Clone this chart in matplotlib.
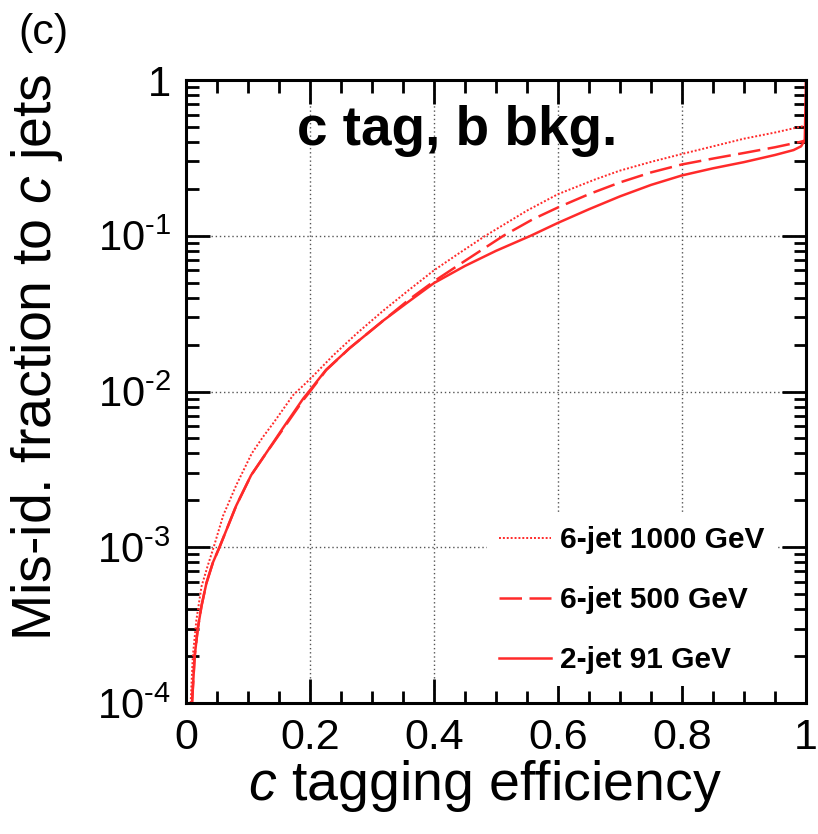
import matplotlib
matplotlib.use("Agg")
import matplotlib.pyplot as plt
from matplotlib.ticker import MultipleLocator, LogLocator, NullFormatter

plt.rcParams['font.family'] = ['Liberation Sans', 'DejaVu Sans']
plt.rcParams['mathtext.fontset'] = 'custom'
plt.rcParams['mathtext.rm'] = 'Liberation Sans'
plt.rcParams['mathtext.it'] = 'Liberation Sans:italic'
plt.rcParams['mathtext.bf'] = 'Liberation Sans:bold'

# ---- data ----
eff_91 = [0.0097, 0.014, 0.019, 0.025, 0.033, 0.0435, 0.054, 0.062, 0.081, 0.105,
          0.127, 0.156, 0.189, 0.200, 0.226, 0.264, 0.318, 0.360, 0.400, 0.450,
          0.500, 0.556, 0.600, 0.650, 0.700, 0.750, 0.800, 0.850, 0.900, 0.950,
          0.980, 0.992, 0.998, 1.000]
mis_91 = [1e-4, 2e-4, 3e-4, 4.2e-4, 5.9e-4, 8e-4, 1e-3, 1.2e-3, 1.85e-3, 2.9e-3,
          3.9e-3, 5.8e-3, 9e-3, 1.02e-2, 1.38e-2, 1.9e-2, 2.85e-2, 3.8e-2, 4.97e-2, 6.4e-2,
          8.0e-2, 0.100, 0.121, 0.148, 0.179, 0.212, 0.244, 0.271, 0.297, 0.330,
          0.355, 0.375, 0.410, 1.0]

eff_500 = [0.0097, 0.014, 0.019, 0.025, 0.033, 0.0435, 0.054, 0.062, 0.081, 0.105,
           0.127, 0.156, 0.189, 0.200, 0.226, 0.264, 0.318, 0.360, 0.400, 0.450,
           0.512, 0.560, 0.600, 0.650, 0.700, 0.750, 0.800, 0.850, 0.900, 0.950,
           0.990, 1.000, 1.000]
mis_500 = [1e-4, 2e-4, 3e-4, 4.2e-4, 5.9e-4, 8e-4, 1e-3, 1.2e-3, 1.85e-3, 2.9e-3,
           3.9e-3, 5.7e-3, 8.8e-3, 1.0e-2, 1.37e-2, 1.9e-2, 2.85e-2, 3.9e-2, 5.1e-2, 6.9e-2,
           0.100, 0.128, 0.152, 0.185, 0.220, 0.255, 0.287, 0.313, 0.340, 0.370,
           0.400, 0.410, 1.0]

eff_1000 = [0.0075, 0.011, 0.0167, 0.025, 0.035, 0.0446, 0.060, 0.081, 0.106, 0.124,
            0.140, 0.173, 0.200, 0.237, 0.275, 0.318, 0.360, 0.400, 0.440, 0.483,
            0.550, 0.600, 0.660, 0.700, 0.750, 0.800, 0.850, 0.900, 0.950, 0.990,
            1.000, 1.000]
mis_1000 = [1e-4, 2e-4, 3.4e-4, 5.6e-4, 7.6e-4, 1e-3, 1.6e-3, 2.5e-3, 4.0e-3, 5.1e-3,
            6.2e-3, 9.5e-3, 1.2e-2, 1.7e-2, 2.35e-2, 3.3e-2, 4.5e-2, 6.0e-2, 7.7e-2, 0.100,
            0.145, 0.185, 0.230, 0.262, 0.298, 0.335, 0.375, 0.420, 0.460, 0.500,
            0.510, 1.0]

labels = ["6-jet 1000 GeV", "6-jet 500 GeV", "2-jet 91 GeV"]
xticks = [0, 0.2, 0.4, 0.6, 0.8, 1]
xticklabels = ["0", "0.2", "0.4", "0.6", "0.8", "1"]
yticks = [1e-4, 1e-3, 1e-2, 1e-1, 1]
yticklabels = [r"$10^{\text{-}4}$", r"$10^{\text{-}3}$", r"$10^{\text{-}2}$",
               r"$10^{\text{-}1}$", "1"]

red = "#ff2a2a"

fig = plt.figure(figsize=(8.18, 8.34), dpi=100)
ax = fig.add_axes([186/818, 1-703/834, 620/818, 623/834])

ax.plot(eff_1000, mis_1000, color=red, lw=1.4, ls=(0, (1, 1)), label=labels[0])
ax.plot(eff_500, mis_500, color=red, lw=1.8, ls=(0, (9, 3)), label=labels[1])
ax.plot(eff_91, mis_91, color=red, lw=1.8, ls='-', label=labels[2])

ax.set_yscale('log')
ax.set_xlim(0, 1)
ax.set_ylim(1e-4, 1)

ax.set_xticks(xticks)
ax.set_xticklabels(xticklabels)
ax.set_yticks(yticks)
ax.set_yticklabels(yticklabels)
ax.xaxis.set_minor_locator(MultipleLocator(0.05))
ax.yaxis.set_minor_locator(LogLocator(base=10, subs=range(2, 10), numticks=20))
ax.yaxis.set_minor_formatter(NullFormatter())

ax.tick_params(which='both', direction='in', top=True, right=True, width=2, colors='black')
ax.tick_params(which='major', length=17)
ax.tick_params(which='minor', length=9)
ax.tick_params(axis='x', which='major', labelsize=31, pad=11)
ax.tick_params(axis='y', which='major', labelsize=30, pad=11)
for s in ax.spines.values():
    s.set_linewidth(2.2)

ax.grid(True, which='major', ls=(0, (1, 2)), color='#555555', lw=1.0)

ax.set_xlabel(r"$c$ tagging efficiency", fontsize=40)
ax.xaxis.set_label_coords(0.482, -0.088)
ax.set_ylabel(r"Mis-id. fraction to $c$ jets", fontsize=40)
ax.yaxis.set_label_coords(-0.195, 0.555)

ax.text(0.437, 0.896, "c tag, b bkg.", transform=ax.transAxes, fontsize=39.5,
        fontweight='bold', ha='center', va='baseline')
fig.text(18/818, 1-44/834, "(c)", fontsize=31, ha='left', va='baseline')

leg = ax.legend(loc='upper left', bbox_to_anchor=(0.485, 0.303), borderaxespad=0,
                borderpad=0.4, handlelength=1.75, handletextpad=0.3, labelspacing=1.07,
                prop={'weight': 'bold', 'size': 21.5}, frameon=True, fancybox=False)
leg.get_frame().set_facecolor('white')
leg.get_frame().set_edgecolor('none')
leg.get_frame().set_alpha(1)

fig.savefig("out.png", dpi=100)
